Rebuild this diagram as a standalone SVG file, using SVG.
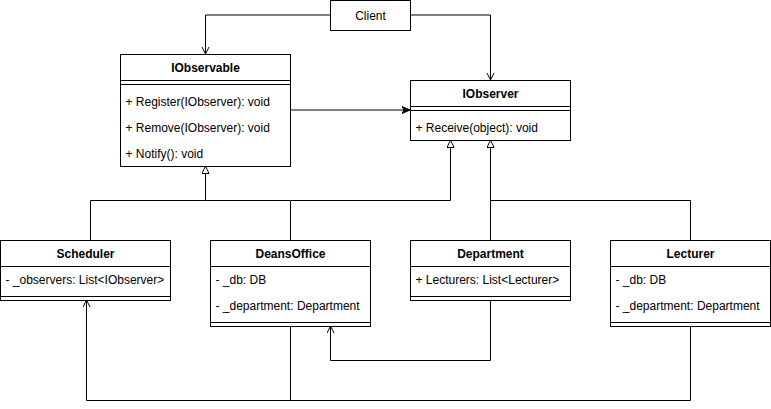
<svg xmlns="http://www.w3.org/2000/svg" width="771" height="409" viewBox="0 0 771 409">
<defs>
<style>
.box{fill:#fff;stroke:#000;stroke-width:1}
.ln{fill:none;stroke:#000;stroke-width:1}
.t{font-family:"Liberation Sans",Arial,sans-serif;font-size:12px;fill:#000}
.b{font-weight:bold;text-anchor:middle}
.c{text-anchor:middle}
</style>
<marker id="open" markerWidth="10" markerHeight="10" refX="8" refY="4" orient="auto" markerUnits="userSpaceOnUse">
<path d="M1,0.5 L8,4 L1,7.5" fill="none" stroke="#000" stroke-width="1"/>
</marker>
<marker id="tri" markerWidth="12" markerHeight="12" refX="8" refY="4" orient="auto" markerUnits="userSpaceOnUse">
<path d="M0.5,0.5 L8,4 L0.5,7.5 Z" fill="#fff" stroke="#000" stroke-width="1"/>
</marker>
<marker id="fill" markerWidth="10" markerHeight="10" refX="8" refY="4" orient="auto" markerUnits="userSpaceOnUse">
<path d="M0,0.5 L8,4 L0,7.5 L2,4 Z" fill="#000" stroke="#000" stroke-width="1"/>
</marker>
</defs>
<rect width="771" height="409" fill="#fff"/>

<g id="connectors">
<path class="ln" d="M330,15 H205.5 V54" marker-end="url(#open)"/>
<path class="ln" d="M410,15 H490.5 V80" marker-end="url(#open)"/>
<path class="ln" d="M290,110 H410" marker-end="url(#fill)"/>
<path class="ln" d="M90.5,240 V200.5 H205.5 V166" marker-end="url(#tri)"/>
<path class="ln" d="M290.5,240 V200.5 H205.5"/>
<path class="ln" d="M290.5,200.5 H450.5 V140" marker-end="url(#tri)"/>
<path class="ln" d="M490.5,240 V140" marker-end="url(#tri)"/>
<path class="ln" d="M690.5,240 V200.5 H490.5"/>
<path class="ln" d="M490.5,300 V360.5 H330.5 V326" marker-end="url(#open)"/>
<path class="ln" d="M690.5,326 V400.5 H86.5 V300" marker-end="url(#open)"/>
<path class="ln" d="M290.5,326 V400.5"/>
</g>

<g id="client">
<rect class="box" x="330.5" y="0.5" width="80" height="30"/>
<text class="t c" x="370.5" y="19.5">Client</text>
</g>

<g id="iobservable">
<rect class="box" x="120.5" y="54.5" width="170" height="112"/>
<path class="ln" d="M120.5,80.5 H290.5 M120.5,84.5 H290.5"/>
<text class="t b" x="205.5" y="72">IObservable</text>
<text class="t" x="125.5" y="106">+ Register(IObserver): void</text>
<text class="t" x="125.5" y="132">+ Remove(IObserver): void</text>
<text class="t" x="125.5" y="158">+ Notify(): void</text>
</g>

<g id="iobserver">
<rect class="box" x="410.5" y="80.5" width="160" height="60"/>
<path class="ln" d="M410.5,106.5 H570.5 M410.5,110.5 H570.5"/>
<text class="t b" x="490.5" y="98">IObserver</text>
<text class="t" x="415.5" y="132">+ Receive(object): void</text>
</g>

<g id="scheduler">
<rect class="box" x="0.5" y="240.5" width="170" height="60"/>
<path class="ln" d="M0.5,266.5 H170.5 M0.5,296.5 H170.5"/>
<text class="t b" x="85.5" y="258">Scheduler</text>
<text class="t" x="5.5" y="284">- _observers: List&lt;IObserver&gt;</text>
</g>

<g id="deansoffice">
<rect class="box" x="210.5" y="240.5" width="160" height="86"/>
<path class="ln" d="M210.5,266.5 H370.5 M210.5,322.5 H370.5"/>
<text class="t b" x="290.5" y="258">DeansOffice</text>
<text class="t" x="215.5" y="284">- _db: DB</text>
<text class="t" x="215.5" y="310">- _department: Department</text>
</g>

<g id="department">
<rect class="box" x="410.5" y="240.5" width="160" height="60"/>
<path class="ln" d="M410.5,266.5 H570.5 M410.5,296.5 H570.5"/>
<text class="t b" x="490.5" y="258">Department</text>
<text class="t" x="415.5" y="284">+ Lecturers: List&lt;Lecturer&gt;</text>
</g>

<g id="lecturer">
<rect class="box" x="610.5" y="240.5" width="160" height="86"/>
<path class="ln" d="M610.5,266.5 H770.5 M610.5,322.5 H770.5"/>
<text class="t b" x="690.5" y="258">Lecturer</text>
<text class="t" x="615.5" y="284">- _db: DB</text>
<text class="t" x="615.5" y="310">- _department: Department</text>
</g>
</svg>
